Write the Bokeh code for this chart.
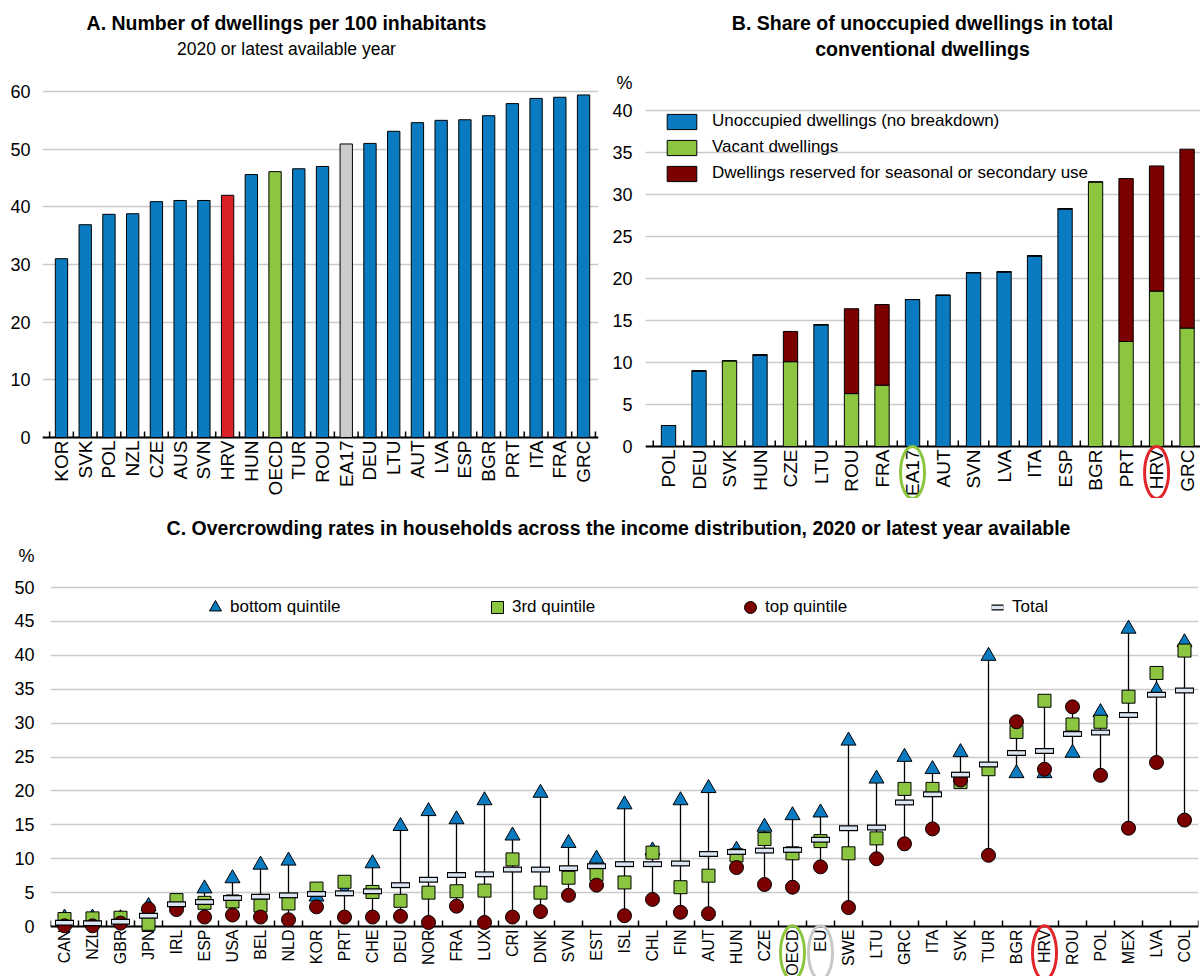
from math import pi
from bokeh.plotting import figure
from bokeh.layouts import column, row
from bokeh.models import (Range1d, FixedTicker, Label, Legend, LegendItem, ColumnDataSource, Span)
from bokeh.core.properties import value
from bokeh.embed import file_html
from bokeh.resources import INLINE

FONT = "Liberation Sans"

# ---------------- data ----------------
A_countries = ["KOR", "SVK", "POL", "NZL", "CZE", "AUS", "SVN", "HRV", "HUN", "OECD", "TUR", "ROU",
               "EA17", "DEU", "LTU", "AUT", "LVA", "ESP", "BGR", "PRT", "ITA", "FRA", "GRC"]
A_values = [31.0, 36.9, 38.7, 38.8, 40.9, 41.1, 41.1, 42.0, 45.6, 46.1, 46.6, 47.0,
            50.9, 51.0, 53.1, 54.6, 55.0, 55.1, 55.8, 57.9, 58.8, 59.0, 59.4]
A_ticks = [0, 10, 20, 30, 40, 50, 60]

B_countries = ["POL", "DEU", "SVK", "HUN", "CZE", "LTU", "ROU", "FRA", "EA17", "AUT", "SVN", "LVA",
               "ITA", "ESP", "BGR", "PRT", "HRV", "GRC"]
B_unoccupied = [2.5, 9.0, 0, 10.9, 0, 14.5, 0, 0, 17.5, 18.0, 20.7, 20.8, 22.7, 28.3, 0, 0, 0, 0]
B_vacant = [0, 0, 10.2, 0, 10.1, 0, 6.3, 7.3, 0, 0, 0, 0, 0, 0, 31.5, 12.5, 18.5, 14.1]
B_seasonal = [0, 0, 0, 0, 3.6, 0, 10.1, 9.6, 0, 0, 0, 0, 0, 0, 0, 19.4, 14.9, 21.3]
B_series = ["Unoccupied dwellings (no breakdown)", "Vacant dwellings",
            "Dwellings reserved for seasonal or secondary use"]
B_ticks = [0, 5, 10, 15, 20, 25, 30, 35, 40]

C_countries = ["CAN", "NZL", "GBR", "JPN", "IRL", "ESP", "USA", "BEL", "NLD", "KOR", "PRT", "CHE",
               "DEU", "NOR", "FRA", "LUX", "CRI", "DNK", "SVN", "EST", "ISL", "CHL", "FIN", "AUT",
               "HUN", "CZE", "OECD", "EU", "SWE", "LTU", "GRC", "ITA", "SVK", "TUR", "BGR", "HRV",
               "ROU", "POL", "MEX", "LVA", "COL"]
C_bottom = [1.3, 1.3, 1.2, 3.0, 3.5, 5.6, 7.1, 9.1, 9.7, 4.4, 5.2, 9.3, 14.8, 17.0, 15.8, 18.6,
            13.4, 19.7, 12.3, 10.0, 18.0, 11.2, 18.6, 20.4, 11.3, 14.7, 16.4, 16.8, 27.4, 21.8,
            25.0, 23.2, 25.7, 39.9, 22.6, 22.6, 25.6, 31.6, 43.9, 34.8, 41.9]
C_third = [1.1, 1.2, 1.3, 0.4, 3.9, 3.5, 3.7, 3.1, 3.4, 5.6, 6.6, 5.1, 3.8, 5.0, 5.2, 5.3,
           9.9, 5.0, 7.2, 7.7, 6.5, 10.9, 5.8, 7.5, 10.5, 12.9, 10.8, 12.6, 10.8, 13.0,
           20.3, 20.3, 21.3, 23.2, 28.7, 33.3, 29.8, 30.2, 33.9, 37.4, 40.7]
C_top = [0.1, 0.1, 0.5, 2.6, 2.5, 1.4, 1.7, 1.4, 1.0, 2.9, 1.4, 1.4, 1.5, 0.6, 3.0, 0.6,
         1.4, 2.2, 4.6, 6.1, 1.6, 4.0, 2.1, 1.9, 8.7, 6.2, 5.8, 8.8, 2.8, 10.0,
         12.2, 14.4, 21.6, 10.5, 30.2, 23.2, 32.4, 22.3, 14.5, 24.2, 15.7]
C_total = [0.55, 0.5, 0.7, 1.6, 3.3, 3.6, 4.2, 4.4, 4.6, 4.8, 4.9, 5.2, 6.1, 6.9, 7.6, 7.7,
           8.4, 8.4, 8.6, 8.9, 9.2, 9.2, 9.3, 10.7, 11.0, 11.2, 11.3, 12.8, 14.5, 14.6,
           18.3, 19.5, 22.4, 23.9, 25.6, 25.9, 28.4, 28.6, 31.2, 34.2, 34.8]
C_series = ["bottom quintile", "3rd quintile", "top quintile", "Total"]
C_ticks = [0, 5, 10, 15, 20, 25, 30, 35, 40, 45, 50]

# ---------------- styles ----------------
BLUE = "#0B7BC1"
GREEN = "#8CC641"
RED = "#DA2128"
GREY = "#CCCCCC"
DARKRED = "#7B0000"
TOTALFILL = "#DCE6F2"
GRID = "#CACACA"
ELL_GREEN = "#8CC641"
ELL_RED = "#E0262B"
ELL_GREY = "#C8C8C8"


def base_fig(width, height, xr, yr, left, right, yticks, grid_ticks, overrides, standoff):
    p = figure(width=width, height=height, x_range=xr, y_range=yr, output_backend="svg",
               toolbar_location=None, title=None, x_axis_location=None,
               min_border_left=left, min_border_right=right,
               min_border_top=0, min_border_bottom=0)
    p.outline_line_color = None
    for g in p.xgrid:
        g.visible = False
    p.ygrid.ticker = FixedTicker(ticks=grid_ticks)
    p.ygrid.grid_line_color = GRID
    p.ygrid.grid_line_width = 1.6
    p.yaxis.ticker = FixedTicker(ticks=yticks)
    p.yaxis.major_label_overrides = overrides
    p.yaxis.axis_line_color = None
    p.yaxis.major_tick_line_color = None
    p.yaxis.minor_tick_line_color = None
    p.yaxis.major_tick_out = 0
    p.yaxis.major_tick_in = 0
    p.yaxis.minor_tick_out = 0
    p.yaxis.major_label_text_font = FONT
    p.yaxis.major_label_text_font_size = "18px"
    p.yaxis.major_label_text_color = "black"
    p.yaxis.major_label_standoff = standoff
    return p


def category_axis(p, cats, px_per_unit, font_size):
    """Category axis drawn inside the frame: axis line, boundary ticks, vertical labels."""
    n = len(cats)
    p.add_layout(Span(location=0, dimension="width", line_color="black", line_width=2,
                      level="underlay"))
    b = [i - 0.5 for i in range(n + 1)]
    p.segment(x0=b, y0=[0] * len(b), x1=b, y1=[6 / px_per_unit] * len(b),
              line_color="black", line_width=1.5)
    p.text(x=list(range(n)), y=[-3 / px_per_unit] * n, text=cats, angle=pi / 2,
           text_align="right", text_baseline="middle", text_font=value(FONT),
           text_font_size=font_size, text_color="black")


def title(p, text, x, y, size, bold=True):
    p.add_layout(Label(x=x, y=y, x_units="screen", y_units="screen", text=text,
                       text_align="center", text_baseline="middle", text_font=FONT,
                       text_font_size=size, text_font_style="bold" if bold else "normal",
                       text_color="black"))


def ring(p, cats, marks, y, height_px):
    names = [c for c in cats if c in marks]
    p.ellipse(x=[cats.index(c) for c in names], y=[y] * len(names), width=24, height=height_px,
              width_units="screen", height_units="screen", fill_color=None,
              line_color=[marks[c] for c in names], line_width=3)


# ---------------- Panel A ----------------
A_ppu = 5.767
pA = base_fig(600, 498, Range1d(-0.8, 22.63), Range1d(-10.58, 75.78), 42, 2, A_ticks, A_ticks,
              {}, 12)
highlightA = {"HRV": RED, "OECD": GREEN, "EA17": GREY}
srcA = ColumnDataSource(dict(x=list(range(len(A_countries))), top=A_values,
                             color=[highlightA.get(c, BLUE) for c in A_countries]))
pA.vbar(x="x", top="top", width=0.52, source=srcA, fill_color="color",
        line_color="black", line_width=1)
category_axis(pA, A_countries, A_ppu, "19px")
title(pA, "A. Number of dwellings per 100 inhabitants", 244, 476, "19.5px")
title(pA, "2020 or latest available year", 244, 450, "17.5px", bold=False)

# ---------------- Panel B ----------------
B_ppu = 8.4
pB = base_fig(600, 498, Range1d(-0.754, 17.44), Range1d(-6.19, 53.1), 45, 0, B_ticks + [43.3],
              B_ticks, {43.3: "%"}, 13)
srcB = ColumnDataSource(dict(x=list(range(len(B_countries))), unocc=B_unoccupied,
                             vacant=B_vacant, seasonal=B_seasonal))
pB.vbar_stack(["unocc", "vacant", "seasonal"], x="x", width=0.47, source=srcB,
              fill_color=[BLUE, GREEN, DARKRED], line_color="black", line_width=1,
              legend_label=B_series)
lg = pB.legend[0]
lg.location = (18, 315)
lg.margin = 0
lg.padding = 0
lg.spacing = 6
lg.border_line_color = None
lg.background_fill_alpha = 0
lg.glyph_width = 37
lg.glyph_height = 19
lg.label_standoff = 12
lg.label_text_font = FONT
lg.label_text_font_size = "17px"
lg.label_text_color = "black"
category_axis(pB, B_countries, B_ppu, "19px")
ring(pB, B_countries, {"EA17": ELL_GREEN, "HRV": ELL_RED}, -3.1, 52)
title(pB, "B. Share of unoccupied dwellings in total", 277, 476, "19.5px")
title(pB, "conventional dwellings", 277, 450, "19.5px")

# ---------------- Panel C ----------------
C_ppu = 6.78
pC = base_fig(1200, 478, Range1d(-0.5, 40.5), Range1d(-7.37, 63.13), 50, 2, C_ticks + [54.7],
              C_ticks, {54.7: "%"}, 16)
xs = list(range(len(C_countries)))
lo = [min(v) for v in zip(C_bottom, C_third, C_top, C_total)]
hi = [max(v) for v in zip(C_bottom, C_third, C_top, C_total)]
srcC = ColumnDataSource(dict(x=xs, bottom=C_bottom, third=C_third, top=C_top, total=C_total,
                             lo=lo, hi=hi))
category_axis(pC, C_countries, C_ppu, "16px")
pC.segment(x0="x", y0="lo", x1="x", y1="hi", source=srcC, line_color="black", line_width=1.3)
r_tri = pC.scatter(x="x", y="bottom", source=srcC, marker="triangle", size=15,
                   fill_color=BLUE, line_color="black", line_width=1)
r_sq = pC.scatter(x="x", y="third", source=srcC, marker="square", size=13,
                  fill_color=GREEN, line_color="black", line_width=1)
r_ci = pC.scatter(x="x", y="top", source=srcC, marker="circle", size=14,
                  fill_color=DARKRED, line_color="black", line_width=1)
r_t1 = pC.scatter(x="x", y="total", source=srcC, marker="dash", size=19,
                  line_color="black", line_width=6)
r_t2 = pC.scatter(x="x", y="total", source=srcC, marker="dash", size=17,
                  line_color=TOTALFILL, line_width=3.5)

for label, rends, xloc in zip(C_series, ([r_tri], [r_sq], [r_ci], [r_t1, r_t2]),
                              (150, 432, 685, 932)):
    leg = Legend(items=[LegendItem(label=label, renderers=rends)], location=(xloc, 354),
                 orientation="horizontal", border_line_color=None, background_fill_alpha=0,
                 padding=0, margin=0, glyph_width=30, glyph_height=30, label_standoff=-4,
                 label_text_font=FONT, label_text_font_size="17px", label_text_color="black")
    pC.add_layout(leg)

ring(pC, C_countries, {"OECD": ELL_GREEN, "EU": ELL_GREY, "HRV": ELL_RED}, -3.85, 54)
title(pC, "C. Overcrowding rates in households across the income distribution, "
          "2020 or latest year available", 568, 449, "19.5px")

layout = column(row(pA, pB), pC)
open("out.html", "w").write(file_html(layout, INLINE))
